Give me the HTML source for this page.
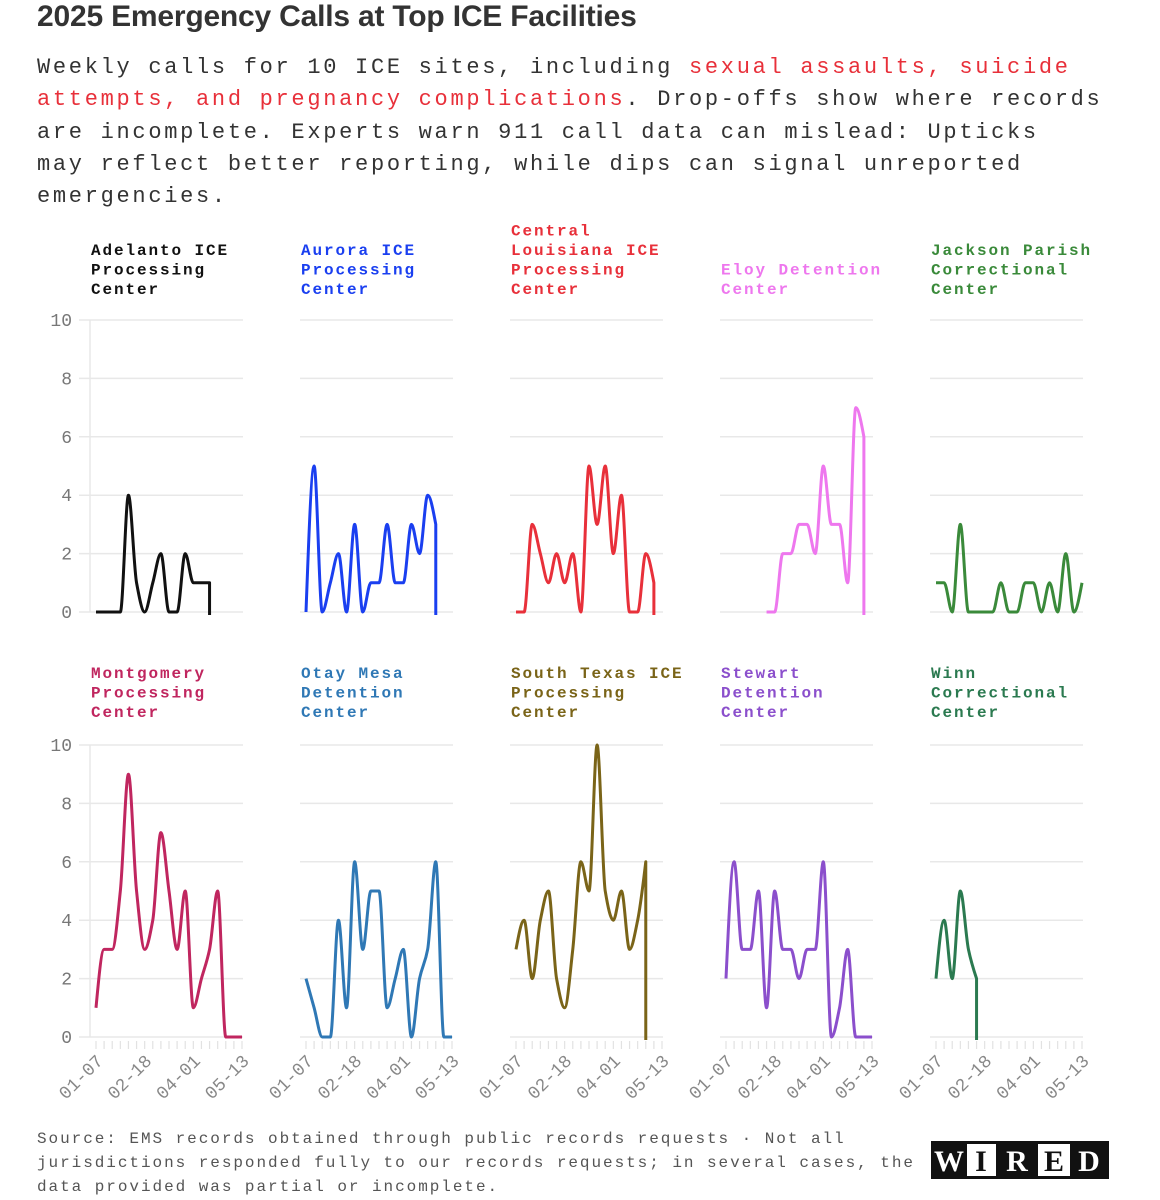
<!DOCTYPE html>
<html><head><meta charset="utf-8">
<style>
body{margin:0;background:#fff;width:1160px;height:1200px;overflow:hidden;position:relative}
.t{position:absolute;left:37px;top:0px;font:bold 30px "Liberation Sans",sans-serif;color:#333;letter-spacing:-0.2px}
.sub{position:absolute;left:37px;top:52px;white-space:nowrap;font:22px/32.3px "Liberation Mono",monospace;letter-spacing:2.7px;color:#333}
.red{color:#e8303a}
.foot{position:absolute;left:37px;top:1127px;width:900px;font:16px/24px "Liberation Mono",monospace;letter-spacing:1.95px;color:#555}
</style></head><body>
<div class="t">2025 Emergency Calls at Top ICE Facilities</div>
<div class="sub">Weekly calls for 10 ICE sites, including <span class="red">sexual assaults, suicide</span><br><span class="red">attempts, and pregnancy complications</span>. Drop-offs show where records<br>are incomplete. Experts warn 911 call data can mislead: Upticks<br>may reflect better reporting, while dips can signal unreported<br>emergencies.</div>
<svg id="chart" width="1160" height="1200" style="position:absolute;left:0;top:0"></svg>
<div class="foot">Source: EMS records obtained through public records requests · Not all jurisdictions responded fully to our records requests; in several cases, the data provided was partial or incomplete.</div>
<svg width="178" height="38" style="position:absolute;left:931px;top:1141px">
<rect x="0" y="0" width="178" height="38" fill="#111"/>
<rect x="36" y="3" width="29" height="32" fill="#fff"/>
<rect x="107" y="3" width="32" height="32" fill="#fff"/>
<g font-family="Liberation Serif,serif" font-weight="bold" font-size="30" text-anchor="middle">
<text x="18" y="30" fill="#fff">W</text><text x="50" y="30" fill="#111">I</text><text x="86" y="30" fill="#fff">R</text><text x="123" y="30" fill="#111">E</text><text x="158" y="30" fill="#fff">D</text></g>
</svg>
<script>
const names = ["Adelanto ICE Processing Center","Aurora ICE Processing Center","Central Louisiana ICE Processing Center","Eloy Detention Center","Jackson Parish Correctional Center","Montgomery Processing Center","Otay Mesa Detention Center","South Texas ICE Processing Center","Stewart Detention Center","Winn Correctional Center"];
const nameLines = [["Adelanto ICE","Processing","Center"],["Aurora ICE","Processing","Center"],["Central","Louisiana ICE","Processing","Center"],["Eloy Detention","Center"],["Jackson Parish","Correctional","Center"],["Montgomery","Processing","Center"],["Otay Mesa","Detention","Center"],["South Texas ICE","Processing","Center"],["Stewart","Detention","Center"],["Winn","Correctional","Center"]];
const colors = ["#111111","#1a3ff0","#e8303a","#ee77ee","#3a8a3a","#c0265f","#2f78b5","#7a6418","#8b4fcc","#2b7a50"];
const weeks = ["01-07","01-14","01-21","01-28","02-04","02-11","02-18","02-25","03-04","03-11","03-18","03-25","04-01","04-08","04-15","04-22","04-29","05-06","05-13"];
const tickWeeks = ["01-07","02-18","04-01","05-13"];
const yTicks = [0,2,4,6,8,10];
const N = null;
const adelanto   = [0,0,0,0,4,1,0,1,2,0,0,2,1,1,1,N,N,N,N];
const aurora     = [0,5,0,1,2,0,3,0,1,1,3,1,1,3,2,4,3,N,N];
const centralLa  = [0,0,3,2,1,2,1,2,0,5,3,5,2,4,0,0,2,1,N];
const eloy       = [N,N,N,N,N,0,0,2,2,3,3,2,5,3,3,1,7,6,N];
const jackson    = [1,1,0,3,0,0,0,0,1,0,0,1,1,0,1,0,2,0,1];
const montgomery = [1,3,3,5,9,5,3,4,7,5,3,5,1,2,3,5,0,0,0];
const otayMesa   = [2,1,0,0,4,1,6,3,5,5,1,2,3,0,2,3,6,0,0];
const southTexas = [3,4,2,4,5,2,1,3,6,5,10,5,4,5,3,4,6,N,N];
const stewart    = [2,6,3,3,5,1,5,3,3,2,3,3,6,0,1,3,0,0,0];
const winn       = [2,4,2,5,3,2,N,N,N,N,N,N,N,N,N,N,N,N,N];
const series = [adelanto,aurora,centralLa,eloy,jackson,montgomery,otayMesa,southTexas,stewart,winn];
const dropOff = [true,true,true,true,false,false,false,true,false,true];

const svg = document.getElementById('chart');
const NS = 'http://www.w3.org/2000/svg';
function mk(tag, attrs, parent){const e=document.createElementNS(NS,tag);for(const k in attrs)e.setAttribute(k,attrs[k]);(parent||svg).appendChild(e);return e;}
function xScale(col,i){return 96+col*210+i*(146/(weeks.length-1));}
function yScale(row,v){const y0=row===0?612:1037;return y0-v*29.2;}
function monotonePath(pts){
  const n=pts.length; if(n<2)return '';
  const dx=[],m=[],t=[];
  for(let i=0;i<n-1;i++){dx.push(pts[i+1][0]-pts[i][0]);m.push((pts[i+1][1]-pts[i][1])/dx[i]);}
  t[0]=m[0];t[n-1]=m[n-2];
  for(let i=1;i<n-1;i++){ if(m[i-1]*m[i]<=0)t[i]=0; else { t[i]=3*(dx[i-1]+dx[i])/((2*dx[i]+dx[i-1])/m[i-1]+(dx[i]+2*dx[i-1])/m[i]); } }
  t[0]=m[0]===0?0:(3*m[0]-t[1])/2; t[n-1]=m[n-2]===0?0:(3*m[n-2]-t[n-2])/2;
  let d='M'+pts[0][0]+','+pts[0][1];
  for(let i=0;i<n-1;i++){const h=dx[i]/3;d+=' C'+(pts[i][0]+h)+','+(pts[i][1]+t[i]*h)+' '+(pts[i+1][0]-h)+','+(pts[i+1][1]-t[i+1]*h)+' '+pts[i+1][0]+','+pts[i+1][1];}
  return d;
}
for(let p=0;p<10;p++){
  const row=Math.floor(p/5), col=p%5;
  const g=mk('g',{});
  
  
  const gx0=(col===0?79:xScale(col,0)-6), gx1=xScale(col,0)+147;
  yTicks.forEach(v=>{
    const l=mk('line',{x1:gx0,x2:gx1,y1:yScale(row,v),y2:yScale(row,v),stroke:'#e8e8e8','stroke-width':1.5},g);
    
    
    if(col===0){
      const tx=mk('text',{x:72,y:yScale(row,v)+6,'text-anchor':'end','font-family':'Liberation Mono,monospace','font-size':18,fill:'#777'},g);
      tx.textContent=v;
      
      
    }
  });
  if(col===0){
    const ax=mk('line',{x1:90,x2:90,y1:yScale(row,10),y2:yScale(row,0),stroke:'#e8e8e8','stroke-width':1.5},g);
    
    
  }
  if(row===1){
    weeks.forEach((w,i)=>{
      const tk=mk('line',{x1:xScale(col,i),x2:xScale(col,i),y1:1041,y2:1049,stroke:'#e2e2e2','stroke-width':1.2},g);
      
      
      if(tickWeeks.includes(w)){
        const x=xScale(col,i)+8, y=1062;
        const tx=mk('text',{x:x,y:y,'text-anchor':'end','font-family':'Liberation Mono,monospace','font-size':18,fill:'#888',transform:'rotate(-45 '+x+' '+y+')'},g);
        tx.textContent=w;
        
        
      }
    });
  }
  const lines=nameLines[p];
  const baseY=row===0?294:717;
  lines.forEach((ln,k)=>{
    const tx=mk('text',{x:xScale(col,0)-5,y:baseY-(lines.length-1-k)*19.5,'font-family':'Liberation Mono,monospace','font-weight':'bold','font-size':16,'letter-spacing':1.9,fill:colors[p]},g);
    tx.textContent=ln;
    
    
  });
  const pts=[];
  series[p].forEach((v,i)=>{ if(v!==null) pts.push([xScale(col,i),yScale(row,v)]); });
  let d=monotonePath(pts);
  if(dropOff[p]){const last=pts[pts.length-1]; d+=' L'+last[0]+','+(yScale(row,0)+3);}
  const path=mk('path',{d:d,fill:'none',stroke:colors[p],'stroke-width':3,'stroke-linejoin':'round'},g);
  
  
}
</script>
</body></html>
